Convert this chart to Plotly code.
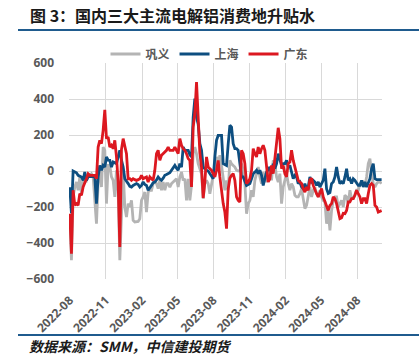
import pandas as pd
import plotly.graph_objects as go

# ---- data (CNY/t) ----
start_date = "2022-08-01"
end_date = "2024-10-02"

gongyi = [
    -255, -496, -144, -89, -61, -107, -33, -126, -61, -43,
    -52, -24, -24, -15, -33, -144, -293, -70, 31, -89,
    133, 115, -181, 31, 31, -33, -52, -144, 4, -107,
    -496, -250, 4, -200, -256, -181, -200, -163, -274, -283,
    -283, -280, -265, -163, -144, -117, -228, -117, -107, -107,
    -70, -61, -70, -98, -52, -107, -61, -107, -70, -70,
    -89, -70, -61, -52, -43, -89, -33, -6, -52, -43,
    -163, -43, -163, -80, 96, 133, 96, 41, 13, -15,
    -154, -70, -52, -70, -126, -70, -15, 31, 78, 41,
    87, 31, -33, -107, -52, -107, 59, 40, 31, 22,
    4, 0, 4, 41, 4, -70, -237, -181, -163, -107,
    -144, -52, -15, 22, -33, -70, -6, -43, -61, -33,
    22, -52, 59, 41, -33, -61, -15, -181, -89, -43,
    -15, -70, -107, -70, -89, -135, -144, -144, -126, -98,
    -154, -209, -191, -126, -89, -144, -107, -89, -126, -144,
    -107, -144, -163, -172, -293, -219, -330, -219, -163, -144,
    -144, -200, -181, -163, -200, -135, -144, -181, -107, -154,
    -154, -126, -107, -107, -70, -70, -61, -80, -33, 41,
    69, -15, -70, -89, -70, -61, -61, -70,
]

shanghai = [
    -90, -235, 0, -5, -10, -24, -28, -33, -52, -6,
    -52, -33, -30, -30, -33, -33, -181, -33, 31, 4,
    31, 22, 78, 60, 59, 22, 50, 45, 41, 78,
    115, 60, 22, -43, -60, -70, -85, -89, -80, -75,
    -70, -75, -89, -80, -61, -75, -80, -107, -90, -80,
    -65, -61, -50, -33, -45, -52, -40, -24, -20, -15,
    -10, 4, 20, 31, 15, 4, 41, 22, 133, 115,
    115, 115, 90, 78, 300, 402, 300, 260, 152, 115,
    22, 10, 4, 0, -15, -25, -43, 78, 170, 198,
    198, 198, 41, 35, 31, 150, 254, 244, 152, 124,
    124, 115, 41, -33, -33, -52, -80, -75, -70, -43,
    -15, -6, 4, -15, 4, -24, -80, -43, -6, 8,
    22, -15, 41, 13, 41, 96, 59, 31, 41, 41,
    59, 22, 31, -15, -43, -24, -33, -70, -61, -89,
    -98, -70, -98, -89, -33, -61, -52, -61, -80, -61,
    -89, -70, -52, 13, -100, -125, -120, -70, -61, -33,
    22, -33, -70, -61, -70, -33, 13, -52, -43, -70,
    -43, -52, -70, -80, -80, -52, -89, -61, -89, -70,
    -43, 13, 41, -43, -48, -48, -48, -48,
]

guangdong = [
    -237, -459, -107, -190, -181, -190, -126, -135, -89, -70,
    -43, -15, -24, -24, -24, -24, -43, 133, 170, 152,
    226, 340, 180, 189, 133, 143, 124, 170, 78, -61,
    -422, 120, 180, 140, 96, -43, -43, -52, -43, -48,
    -52, -48, -43, -24, -43, -38, -33, -61, -33, -43,
    -52, 4, 96, 115, 59, 87, 96, 110, 115, 133,
    115, 115, 115, 133, 115, 96, 180, 143, 124, 115,
    96, 69, 59, -89, 244, 318, 494, 300, 100, 20,
    -150, -60, 78, 22, 13, 4, -15, -33, 4, 59,
    -33, -110, -181, -228, -320, -100, -40, -24, -15, -52,
    -144, -163, -172, 115, 96, 41, -70, -61, -43, 4,
    124, 96, 78, 133, 96, 124, 143, 115, 4, -61,
    -43, 31, -15, 78, 152, 240, 180, 13, 31, -15,
    -33, 41, 50, 115, 59, 22, -24, -52, -61, -70,
    -98, -117, -89, -107, -50, -40, -80, -107, -126, -144,
    -117, -98, -144, -172, -191, -219, -191, -181, -144, -154,
    -181, -230, -265, -260, -235, -237, -219, -172, -172, -154,
    -154, -135, -107, -126, -144, -181, -154, -154, -181, -126,
    -80, -70, -80, -191, -200, -228, -225, -220,
]

series_names = ["巩义", "上海", "广东"]
series_values = [gongyi, shanghai, guangdong]
series_colors = ["#b4b4b4", "#0d4e80", "#dc1820"]

x_tick_dates = ["2022-08-01", "2022-11-01", "2023-02-01", "2023-05-01", "2023-08-01",
                "2023-11-01", "2024-02-01", "2024-05-01", "2024-08-01"]
x_tick_labels = ["2022-08", "2022-11", "2023-02", "2023-05", "2023-08",
                 "2023-11", "2024-02", "2024-05", "2024-08"]
y_ticks = [-600, -400, -200, 0, 200, 400, 600]

fig = go.Figure()
for name, vals, col in zip(series_names, series_values, series_colors):
    dates = pd.date_range(start_date, end_date, periods=len(vals))
    fig.add_trace(go.Scatter(x=dates, y=vals, mode="lines", name=name,
                             line=dict(color=col, width=2.8)))

W, H = 419, 355
# plot area in pixels
L, R, T, B = 69, 382, 63, 279
def px(x):
    return (x - L) / (R - L)
def py(y):
    return (B - y) / (B - T)

tick_font = dict(family="Open Sans, Liberation Sans, sans-serif", size=12,
                 color="#595959", weight="bold")

fig.update_layout(
    width=W, height=H,
    margin=dict(l=L, r=W - R, t=T, b=H - B, autoexpand=False),
    paper_bgcolor="white", plot_bgcolor="white",
    showlegend=True,
    legend=dict(orientation="h", x=0.5, xanchor="center", xref="container",
                y=1 - 54 / H, yanchor="middle", yref="container",
                font=dict(family="Noto Sans CJK SC", size=12, color="#595959", weight="bold"),
                itemwidth=30, tracegroupgap=0, bgcolor="rgba(0,0,0,0)"),
    xaxis=dict(type="date", range=["2022-07-30", "2024-10-03"], automargin=False,
               tickvals=x_tick_dates, ticktext=x_tick_labels, tickangle=-45,
               tickfont=tick_font, showgrid=True, gridcolor="#d9d9d9", gridwidth=1,
               zeroline=False, showline=False, ticks="", ticklabelstandoff=11),
    yaxis=dict(range=[-600, 600], tickvals=y_ticks, tickfont=tick_font, automargin=False,
               showgrid=True, gridcolor="#d9d9d9", gridwidth=1,
               zeroline=False, showline=False, ticks="", ticklabelstandoff=14),
    annotations=[
        dict(xref="paper", yref="paper", x=px(28), y=py(15), xanchor="left", yanchor="middle",
             text="<b>图 3：国内三大主流电解铝消费地升贴水</b>", showarrow=False,
             font=dict(family="Noto Sans CJK SC", size=16, color="#1a1a1a")),
        dict(xref="paper", yref="paper", x=px(27), y=py(346), xanchor="left", yanchor="middle",
             text="<i>数据来源：SMM，中信建投期货</i>", showarrow=False,
             font=dict(family="Noto Sans CJK SC", size=14, color="#1a1a1a", weight=600)),
    ],
    shapes=[
        dict(type="line", xref="paper", yref="paper", x0=px(18), x1=px(419), y0=py(30), y1=py(30),
             line=dict(color="#1f5b8e", width=2.2)),
        dict(type="line", xref="paper", yref="paper", x0=px(18), x1=px(419), y0=py(335), y1=py(335),
             line=dict(color="#1f5b8e", width=2.2)),
    ],
)

fig.write_html("out.html", config={"displayModeBar": False},
               post_script="document.body.style.margin='0';document.body.style.overflow='hidden';")
